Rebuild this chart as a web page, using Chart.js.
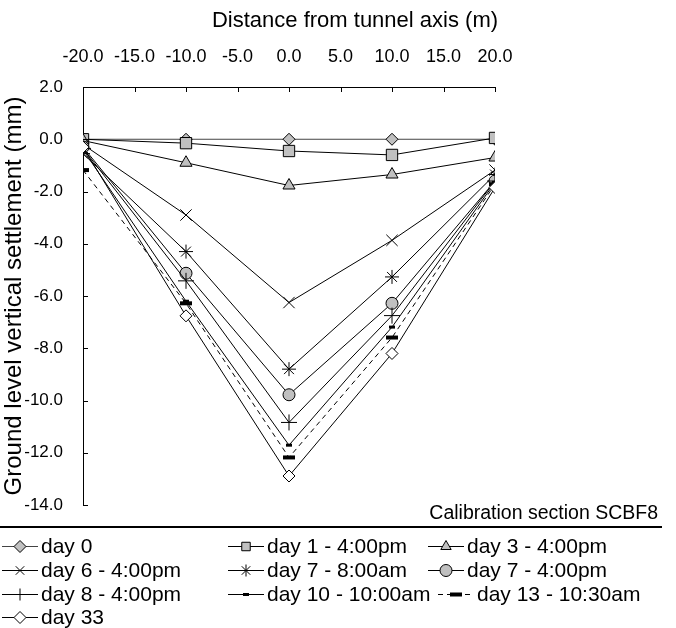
<!DOCTYPE html>
<html>
<head>
<meta charset="utf-8">
<script src="https://cdn.jsdelivr.net/npm/chart.js@4/dist/chart.umd.min.js"></script>
<style>
  html, body { margin: 0; padding: 0; background: #fff; }
  #grafico { display: block; }
</style>
</head>
<body>
<canvas id="grafico" width="676" height="628"></canvas>
<script>
// distances from the tunnel axis (m)
const distancias = [-20, -10, 0, 10, 20];
const xTicks = [-20, -15, -10, -5, 0, 5, 10, 15, 20];
const yTicks = [-14, -12, -10, -8, -6, -4, -2, 0, 2];

// settlement readings (mm), one array per survey
const nomes = [
  "day 0", "day 1 - 4:00pm", "day 3 - 4:00pm",
  "day 6 - 4:00pm", "day 7 - 8:00am", "day 7 - 4:00pm",
  "day 8 - 4:00pm", "day 10 - 10:00am", "day 13 - 10:30am",
  "day 33"
];
const dia0 = [0, 0, 0, 0, 0];
const dia1 = [0, -0.15, -0.45, -0.6, 0.05];
const dia3 = [-0.05, -0.9, -1.77, -1.35, -0.7];
const dia6 = [-0.2, -2.9, -6.25, -3.87, -1.18];
const dia7manha = [-0.55, -4.3, -8.8, -5.27, -1.35];
const dia7tarde = [-0.3, -5.13, -9.78, -6.28, -1.6];
const dia8 = [-0.35, -5.42, -10.84, -6.75, -1.6];
const dia10 = [-0.4, -6.2, -11.71, -7.19, -1.65];
const dia13 = [-1.18, -6.28, -12.18, -7.59, -1.72];
const dia33 = [-0.3, -6.76, -12.89, -8.2, -1.85];

const series = [dia0, dia1, dia3, dia6, dia7manha, dia7tarde, dia8, dia10, dia13, dia33];

const CINZA = "#c0c0c0";
const estilos = [
  { pointStyle: "rectRot", radius: 6, fill: CINZA, line: "#444" },
  { pointStyle: "rect", radius: 8, fill: CINZA },
  { pointStyle: "triangle", radius: 7, fill: CINZA },
  { pointStyle: "crossRot", radius: 8, fill: "#000" },
  { pointStyle: "star", radius: 7, fill: "#000" },
  { pointStyle: "circle", radius: 6, fill: CINZA },
  { pointStyle: "cross", radius: 8, fill: "#000" },
  { pointStyle: "line", radius: 3, fill: "#000", pointWidth: 3 },
  { pointStyle: "line", radius: 6, fill: "#000", pointWidth: 4, dash: [5, 4] },
  { pointStyle: "rectRot", radius: 6, fill: "#fff" }
];

function montarDatasets() {
  return series.map((valores, i) => {
    const e = estilos[i];
    return {
      label: nomes[i],
      data: valores.map((v, k) => ({ x: distancias[k], y: v })),
      borderColor: e.line || "#000",
      borderWidth: 1,
      borderDash: e.dash || [],
      pointStyle: e.pointStyle,
      pointRadius: e.radius,
      pointBackgroundColor: e.fill,
      pointBorderColor: "#000",
      pointBorderWidth: e.pointWidth || 1,
      tension: 0,
      fill: false,
      order: series.length - i,
    };
  });
}

const FONTE = "'Liberation Sans', Arial, sans-serif";

// inside tick marks, titles, caption, rule and legend
const extras = {
  id: "extras",
  afterDraw(chart) {
    const ctx = chart.ctx;
    const xs = chart.scales.x;
    const ys = chart.scales.y;
    const area = chart.chartArea;
    ctx.save();
    ctx.strokeStyle = "#000";
    ctx.lineWidth = 1;
    ctx.beginPath();
    xTicks.forEach((v) => {
      const px = Math.round(xs.getPixelForValue(v)) + 0.5;
      ctx.moveTo(px, area.top);
      ctx.lineTo(px, area.top + 5);
    });
    yTicks.forEach((v) => {
      const py = Math.round(ys.getPixelForValue(v)) + 0.5;
      ctx.moveTo(area.left, py);
      ctx.lineTo(area.left + 5, py);
    });
    ctx.stroke();

    ctx.fillStyle = "#000";
    ctx.font = "22px " + FONTE;
    ctx.textAlign = "center";
    ctx.textBaseline = "middle";
    ctx.fillText("Distance from tunnel axis (m)", 355, 21);

    ctx.font = "19.5px " + FONTE;
    ctx.textAlign = "right";
    ctx.textBaseline = "alphabetic";
    ctx.fillText("Calibration section SCBF8", 658, 519);

    ctx.lineWidth = 2;
    ctx.beginPath();
    ctx.moveTo(0, 527);
    ctx.lineTo(662, 527);
    ctx.stroke();

    const colX = [2, 228, 428];
    const rowY = [546, 570, 594, 617];
    ctx.font = "21px " + FONTE;
    ctx.textAlign = "left";
    ctx.textBaseline = "middle";
    chart.data.datasets.forEach((ds, i) => {
      let x0 = colX[i % 3];
      const y0 = rowY[Math.floor(i / 3)];
      if (i === 8) x0 += 10;
      ctx.lineWidth = 1;
      ctx.strokeStyle = ds.borderColor;
      ctx.setLineDash(ds.borderDash);
      ctx.beginPath();
      ctx.moveTo(x0, y0 + 0.5);
      ctx.lineTo(x0 + 36, y0 + 0.5);
      ctx.stroke();
      ctx.setLineDash([]);
      ctx.fillStyle = ds.pointBackgroundColor;
      ctx.strokeStyle = "#000";
      ctx.lineWidth = ds.pointBorderWidth;
      Chart.helpers.drawPoint(ctx, {
        pointStyle: ds.pointStyle,
        radius: Math.min(ds.pointRadius, 6),
        rotation: 0,
        borderWidth: ds.pointBorderWidth,
      }, x0 + 18, y0 + 0.5);
      ctx.fillStyle = "#000";
      ctx.fillText(ds.label, x0 + 39, y0 + 1);
    });
    ctx.restore();
  },
};

const ctx = document.getElementById("grafico").getContext("2d");
const grafico = new Chart(ctx, {
  type: "line",
  data: { datasets: montarDatasets() },
  options: {
    responsive: false,
    animation: false,
    devicePixelRatio: 1,
    layout: { padding: { left: 0, top: 0, right: 181, bottom: 123 } },
    plugins: {
      legend: { display: false },
      tooltip: { enabled: false },
    },
    scales: {
      x: {
        type: "linear",
        position: "top",
        min: -20,
        max: 20,
        afterBuildTicks: (s) => { s.ticks = xTicks.map((v) => ({ value: v })); },
        afterFit: (s) => { s.height = 87; },
        ticks: {
          callback: (v) => v.toFixed(1),
          color: "#000",
          font: { size: 18, family: FONTE },
          padding: 19,
          maxRotation: 0,
        },
        grid: { display: true, drawOnChartArea: false, drawTicks: false },
        border: { display: true, color: "#000", width: 1 },
      },
      y: {
        min: -14,
        max: 2,
        afterBuildTicks: (s) => { s.ticks = yTicks.map((v) => ({ value: v })); },
        afterFit: (s) => { s.width = 83; },
        ticks: {
          callback: (v) => v.toFixed(1),
          color: "#000",
          font: { size: 17, family: FONTE },
          padding: 20,
        },
        grid: { display: true, drawOnChartArea: false, drawTicks: false },
        border: { display: true, color: "#000", width: 1 },
        title: {
          display: true,
          text: "Ground level vertical settlement (mm)",
          color: "#000",
          font: { size: 24, family: FONTE },
          padding: { top: 0, bottom: 0 },
        },
      },
    },
  },
  plugins: [extras],
});
</script>
</body>
</html>
